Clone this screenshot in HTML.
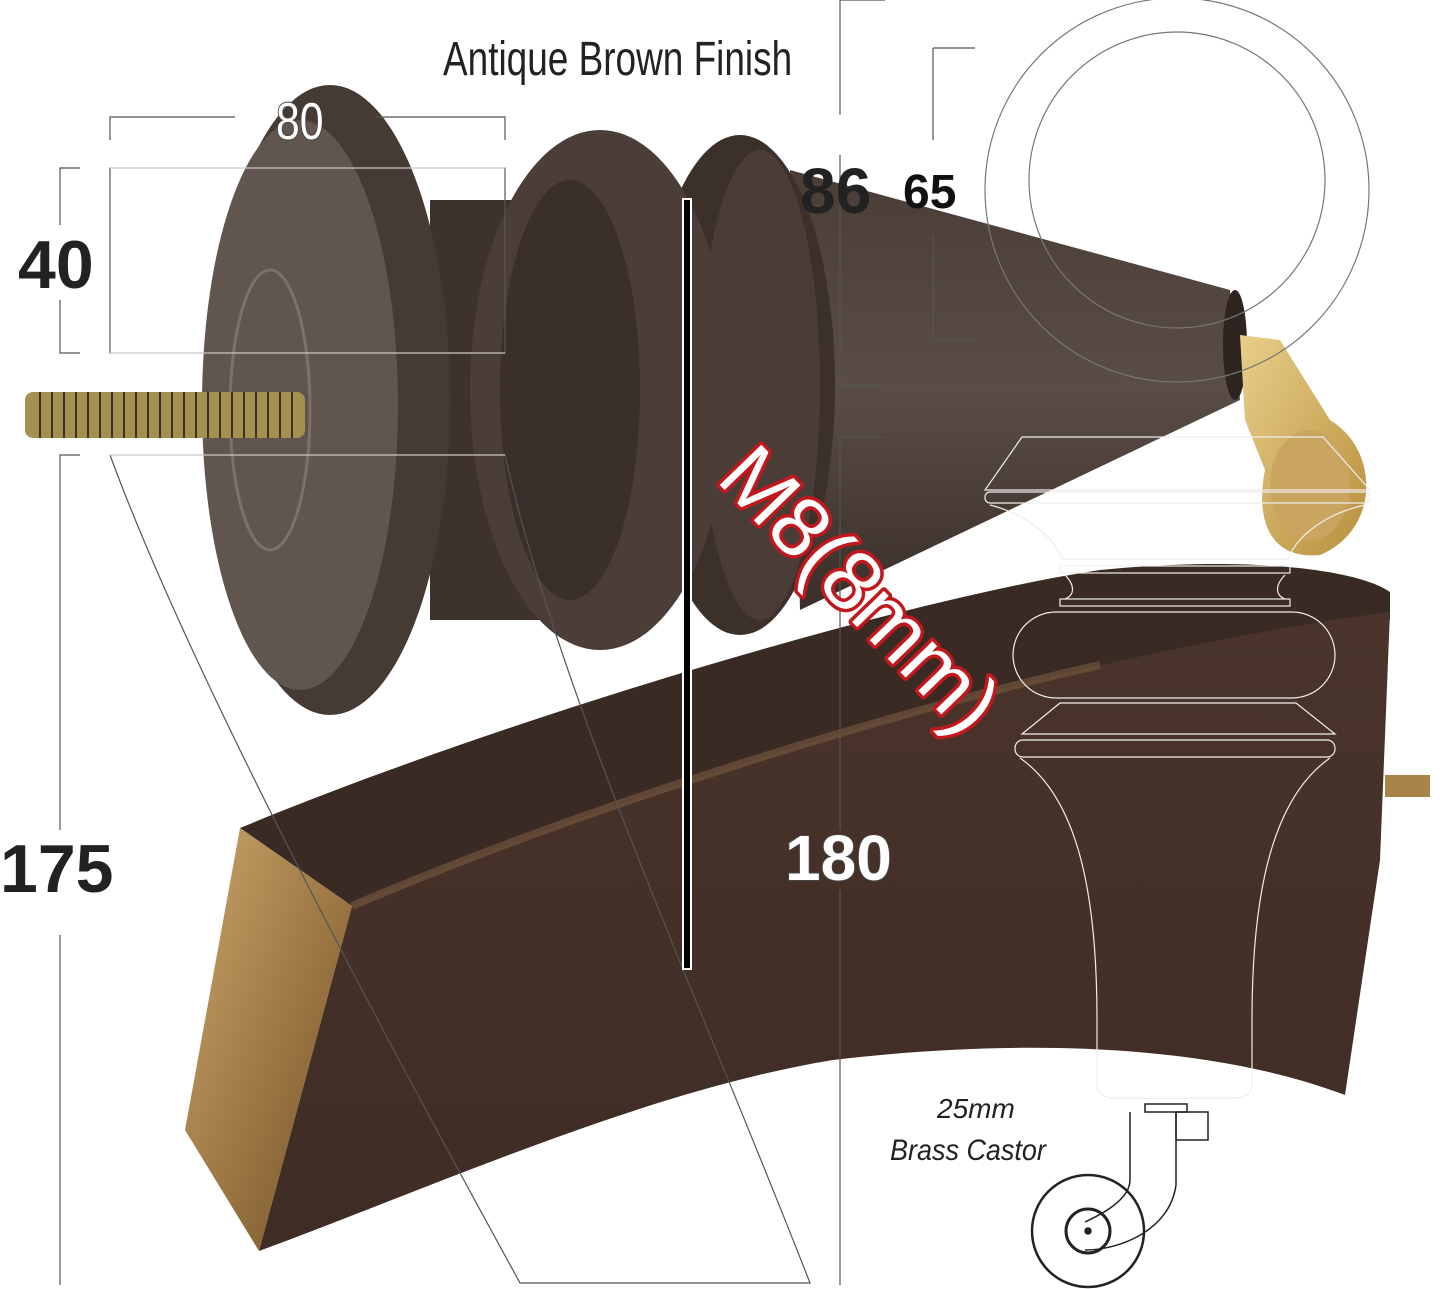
<!DOCTYPE html>
<html><head><meta charset="utf-8"><style>
html,body{margin:0;padding:0;background:#fff}
svg{display:block}
</style></head><body>
<svg width="1445" height="1289" viewBox="0 0 1445 1289" xmlns="http://www.w3.org/2000/svg">
<rect width="1445" height="1289" fill="#fff"/>
<defs>
<linearGradient id="gold" x1="0" y1="0" x2="1" y2="1"><stop offset="0" stop-color="#c9a66c"/><stop offset="0.5" stop-color="#a07a45"/><stop offset="1" stop-color="#6e4f28"/></linearGradient>
<linearGradient id="front" x1="0" y1="0" x2="0" y2="1"><stop offset="0" stop-color="#4a342b"/><stop offset="1" stop-color="#3e2c25"/></linearGradient>
<linearGradient id="cone" x1="0" y1="0" x2="0" y2="1"><stop offset="0" stop-color="#4a3d38"/><stop offset="0.5" stop-color="#5a4d47"/><stop offset="1" stop-color="#3a2e29"/></linearGradient>
<linearGradient id="brass" x1="0" y1="0" x2="1" y2="1"><stop offset="0" stop-color="#e8cf8a"/><stop offset="1" stop-color="#b88f3c"/></linearGradient>
</defs>
<path d="M240,828 C500,720 900,600 1100,570 C1250,555 1360,570 1390,592 L1390,620 C1200,640 800,720 352,906 Z" fill="#3a2a24"/>
<path d="M352,906 C700,760 1100,650 1390,612 L1380,860 L1345,1095 C1200,1040 1000,1040 833,1060 C650,1090 450,1180 259,1251 Z" fill="url(#front)"/>
<path d="M352,906 C600,800 900,710 1100,665" stroke="#7a5a40" stroke-width="8" fill="none" opacity="0.6"/>
<path d="M240,828 L352,906 L259,1251 L185,1130 Z" fill="url(#gold)"/>
<rect x="1385" y="775" width="45" height="22" fill="#a88448"/>
<path d="M790,170 L1230,290 L1240,400 L800,610 Z" fill="url(#cone)"/>
<ellipse cx="1235" cy="345" rx="12" ry="55" fill="#2e2420"/>
<ellipse cx="740" cy="385" rx="95" ry="250" fill="#3c302b"/>
<ellipse cx="760" cy="385" rx="60" ry="235" fill="#4a3d37"/>
<rect x="430" y="200" width="110" height="420" fill="#3e322d"/>
<ellipse cx="600" cy="390" rx="130" ry="260" fill="#4b3e39"/>
<ellipse cx="570" cy="390" rx="70" ry="210" fill="#3a2f2a"/>
<ellipse cx="330" cy="400" rx="120" ry="315" fill="#463a35"/>
<ellipse cx="300" cy="405" rx="98" ry="285" fill="#615550"/>
<ellipse cx="270" cy="410" rx="40" ry="140" fill="none" stroke="#7c716b" stroke-width="3"/>
<path d="M1240,335 L1280,340 L1330,420 C1380,450 1380,530 1320,555 C1270,560 1255,520 1265,470 L1245,420 Z" fill="url(#brass)"/>
<ellipse cx="1310" cy="485" rx="40" ry="55" fill="#c9a560"/>
<rect x="25" y="392" width="280" height="46" rx="8" fill="#a4904f"/>
<g stroke="#3a3120" stroke-width="2">
<path d="M40,392v46M52,392v46M64,392v46M76,392v46M88,392v46M100,392v46M112,392v46M124,392v46M136,392v46M148,392v46M160,392v46M172,392v46M184,392v46M196,392v46M208,392v46M220,392v46M232,392v46M244,392v46M256,392v46M268,392v46M280,392v46M292,392v46"/>
</g>
<g stroke="#555" stroke-width="1.2" fill="none">
<path d="M110,140 V117 H235 M375,117 H505 V140"/>
<path d="M80,168 H60 V225 M60,300 V353 H80"/>
<path d="M110,168 H505 V353 H110 Z"/>
<path d="M80,455 H60 V830 M60,935 V1285"/>
<path d="M110,455 H505 C560,700 700,1000 810,1283 H520 C420,1100 200,700 110,455"/>
<path d="M840,0 V115 M840,155 V385 H885 M840,0 H885"/>
<path d="M933,48 H975 M933,48 V140 M933,235 V340 H975"/>
<path d="M840,437 H885 M840,437 V830 M840,890 V1285"/>
</g>
<g stroke="#fff" stroke-width="1" fill="none" opacity="0.85">
<path d="M110,168 H505 M110,353 H505 M110,455 H505"/>
</g>
<circle cx="1177" cy="190" r="192" fill="none" stroke="#777" stroke-width="1.2"/>
<circle cx="1177" cy="180" r="148" fill="none" stroke="#777" stroke-width="1.2"/>
<g stroke="#eee" stroke-width="1.2" fill="none">
<path d="M1022,437 H1323 L1370,490 H985 Z"/>
<rect x="985" y="492" width="385" height="11" rx="5"/>
<path d="M990,505 C1030,515 1055,540 1062,559 H1288 C1295,540 1320,515 1365,505"/>
<rect x="1060" y="566" width="230" height="7"/>
<path d="M1065,575 C1075,585 1075,595 1065,599 M1285,575 C1275,585 1275,595 1285,599"/>
<rect x="1060" y="599" width="230" height="7"/>
<rect x="1013" y="612" width="322" height="86" rx="43"/>
<path d="M1022,734 L1060,703 H1296 L1335,734 Z"/>
<rect x="1015" y="740" width="320" height="17" rx="8"/>
<path d="M1020,758 C1080,800 1097,900 1097,1020 V1085 Q1097,1098 1115,1098 H1235 Q1252,1098 1252,1085 V1020 C1252,900 1270,800 1330,758"/>
</g>
<g stroke="#222" stroke-width="1.5" fill="none">
<rect x="1145" y="1104" width="42" height="8"/>
<rect x="1176" y="1112" width="32" height="28"/>
<path d="M1130,1112 V1180 C1130,1200 1100,1215 1085,1222 M1176,1112 V1185 C1170,1230 1120,1250 1085,1250"/>
<circle cx="1088" cy="1231" r="56" stroke-width="2.5"/>
<circle cx="1088" cy="1231" r="22" stroke-width="3"/>
<circle cx="1088" cy="1231" r="3" fill="#222"/>
</g>
<rect x="682" y="198" width="10" height="772" fill="#fff"/>
<rect x="684" y="200" width="6" height="768" fill="#000"/>
<g font-family="'Liberation Sans', sans-serif">
<text x="443" y="75" font-size="48" fill="#222" transform="translate(443,0) scale(0.77,1) translate(-443,0)">Antique Brown Finish</text>
<text x="276" y="139" font-size="52" fill="#fff" stroke="#444" stroke-width="2" paint-order="stroke" transform="translate(276,0) scale(0.82,1) translate(-276,0)">80</text>
<text x="18" y="288" font-size="68" font-weight="bold" fill="#222">40</text>
<text x="800" y="213" font-size="64" font-weight="bold" fill="#222">86</text>
<text x="903" y="208" font-size="48" font-weight="bold" fill="#111">65</text>
<text x="0" y="892" font-size="68" font-weight="bold" fill="#222">175</text>
<text x="785" y="880" font-size="64" font-weight="bold" fill="#fff" stroke="#444" stroke-width="2" paint-order="stroke">180</text>
<text x="0" y="0" font-size="84" fill="#fff" stroke="#c0181c" stroke-width="7" paint-order="stroke" stroke-linejoin="round" transform="translate(715,480) rotate(46)">M8(8mm)</text>
<text x="937" y="1118" font-size="28" font-style="italic" fill="#222">25mm</text>
<text x="890" y="1160" font-size="30" font-style="italic" fill="#222" transform="translate(890,0) scale(0.9,1) translate(-890,0)">Brass Castor</text>
</g>
</svg>
</body></html>
